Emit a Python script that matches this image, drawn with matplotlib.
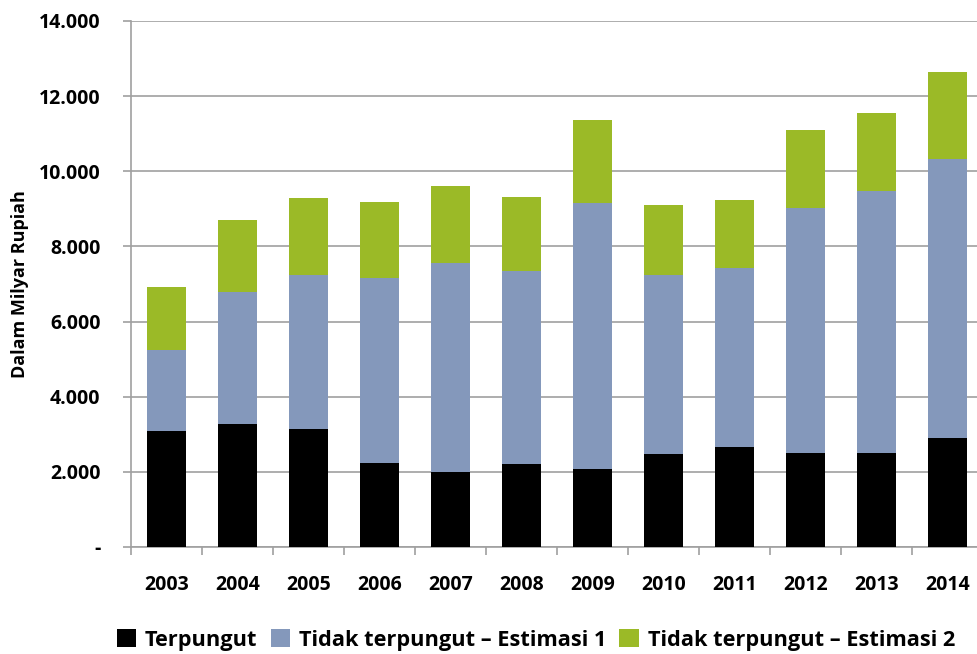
import matplotlib
matplotlib.use("Agg")
import matplotlib.pyplot as plt
import numpy as np
from matplotlib.ticker import FuncFormatter

years = ["2003", "2004", "2005", "2006", "2007", "2008", "2009", "2010", "2011", "2012", "2013", "2014"]
terpungut = [3100, 3270, 3140, 2240, 2000, 2210, 2080, 2480, 2660, 2500, 2500, 2900]
estimasi1_top = [5250, 6790, 7240, 7160, 7560, 7350, 9160, 7240, 7430, 9020, 9480, 10330]
estimasi2_top = [6920, 8700, 9290, 9180, 9610, 9320, 11370, 9100, 9240, 11100, 11550, 12640]

estimasi1 = [b - a for a, b in zip(terpungut, estimasi1_top)]
estimasi2 = [c - b for b, c in zip(estimasi1_top, estimasi2_top)]

labels = ["Terpungut", "Tidak terpungut \u2013 Estimasi 1", "Tidak terpungut \u2013 Estimasi 2"]
colors = ["#000000", "#8498BB", "#9BBA27"]

plt.rcParams['font.family'] = ['Open Sans', 'DejaVu Sans']
plt.rcParams['font.weight'] = 'bold'

fig = plt.figure(figsize=(9.77, 6.54), dpi=100)
ax = fig.add_axes([131/977, 107/654, 852/977, 526/654])

x = np.arange(len(years))
w = 0.55
ax.bar(x, terpungut, w, color=colors[0], label=labels[0], zorder=3)
ax.bar(x, estimasi1, w, bottom=terpungut, color=colors[1], label=labels[1], zorder=3)
ax.bar(x, estimasi2, w, bottom=estimasi1_top, color=colors[2], label=labels[2], zorder=3)

ax.set_xlim(-0.5, len(years) - 0.5)
ax.set_ylim(0, 14000)
ax.set_yticks(np.arange(0, 14001, 2000))

def fmt(v, pos):
    if v == 0:
        return "-"
    return f"{int(v):,}".replace(",", ".")
ax.yaxis.set_major_formatter(FuncFormatter(fmt))

ax.set_xticks(x)
ax.set_xticklabels(years)
ax.set_xticks(np.arange(-0.5, len(years), 1), minor=True)
ax.tick_params(axis='x', which='major', length=0, pad=20, labelsize=14)
ax.tick_params(axis='x', which='minor', length=6, color='#a0a0a0', width=1.2, direction='out')
ax.tick_params(axis='y', length=6, color='#a0a0a0', width=1.2, pad=16, labelsize=14)
for t in ax.get_xticklabels() + ax.get_yticklabels():
    t.set_fontweight('bold')

ax.grid(axis='y', color='#a0a0a0', linewidth=1.2, zorder=0)
for s in ['top', 'right']:
    ax.spines[s].set_visible(False)
for s in ['left', 'bottom']:
    ax.spines[s].set_color('#a0a0a0')
    ax.spines[s].set_linewidth(1.2)

ax.set_ylabel("Dalam Milyar Rupiah", fontsize=13, fontweight='bold', labelpad=7)

leg = fig.legend(loc='center left', bbox_to_anchor=(108/977, 1 - 640/654), ncol=3,
                 frameon=False, fontsize=15.7, handlelength=0.9, handleheight=0.9,
                 handletextpad=0.4, columnspacing=0.6, borderaxespad=0)
for t in leg.get_texts():
    t.set_fontweight('bold')

fig.savefig("out.png", dpi=100)
